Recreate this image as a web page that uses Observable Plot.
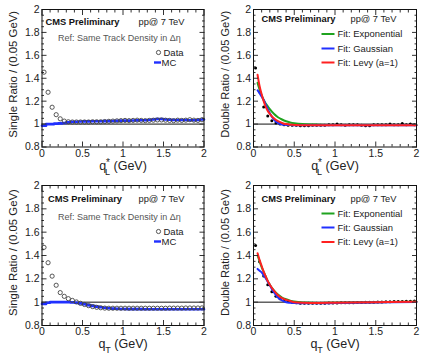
<!DOCTYPE html>
<html><head><meta charset="utf-8">
<script src="https://cdn.jsdelivr.net/npm/d3@7"></script>
<script src="https://cdn.jsdelivr.net/npm/@observablehq/plot@0.6"></script>
<style>
body{margin:0;background:#fff;}
#wrap{position:relative;width:424px;height:358px;overflow:hidden;}
#wrap svg{position:absolute;font-family:'Liberation Sans', Arial, Helvetica, sans-serif !important;}
</style></head><body><div id="wrap"></div>
<script>
// ---------- data ----------
const qBins = [0.025,0.075,0.125,0.175,0.225,0.275,0.325,0.375,0.425,0.475,0.525,0.575,0.625,0.675,0.725,0.775,0.825,0.875,0.925,0.975,1.025,1.075,1.125,1.175,1.225,1.275,1.325,1.375,1.425,1.475,1.525,1.575,1.625,1.675,1.725,1.775,1.825,1.875,1.925,1.975];

const singleQLData = [1.453,1.278,1.147,1.082,1.046,1.026,1.02,1.018,1.018,1.018,1.018,1.018,1.02,1.02,1.02,1.022,1.024,1.026,1.028,1.03,1.032,1.03,1.032,1.034,1.032,1.03,1.032,1.034,1.036,1.036,1.034,1.032,1.03,1.034,1.032,1.034,1.038,1.034,1.032,1.038];
const singleQLMC = [0.985,1.0,1.0,1.004,1.006,1.01,1.015,1.02,1.02,1.022,1.024,1.024,1.025,1.025,1.025,1.026,1.026,1.027,1.028,1.03,1.03,1.03,1.031,1.032,1.033,1.034,1.036,1.04,1.045,1.045,1.04,1.038,1.036,1.035,1.035,1.035,1.034,1.034,1.036,1.04];

const singleQTData = [1.47,1.338,1.223,1.145,1.082,1.05,1.03,1.015,1.002,0.99,0.98,0.97,0.962,0.956,0.952,0.949,0.948,0.948,0.948,0.948,0.948,0.948,0.948,0.948,0.948,0.948,0.948,0.948,0.948,0.948,0.948,0.949,0.949,0.949,0.949,0.95,0.95,0.95,0.95,0.951];
const singleQTMC = [0.985,0.995,1.0,1.0,1.0,1.0,1.0,0.998,0.995,0.99,0.982,0.975,0.968,0.962,0.957,0.952,0.948,0.945,0.943,0.942,0.941,0.94,0.94,0.94,0.94,0.939,0.939,0.939,0.939,0.939,0.939,0.939,0.939,0.939,0.939,0.939,0.939,0.939,0.939,0.939];

const doubleQLData = [1.49,1.28,1.15,1.07,1.03,1.01,1.0,0.995,0.99,0.99,0.99,0.985,0.985,0.985,0.99,0.99,0.99,0.99,0.995,0.995,1.0,0.995,0.99,0.995,0.995,0.995,0.99,0.985,0.985,0.995,0.995,0.995,0.995,1.0,0.995,0.995,1.005,0.995,1.0,0.995];
const doubleQTData = [1.485,1.346,1.225,1.15,1.09,1.05,1.03,1.015,1.005,1.0,0.995,0.99,0.99,0.99,0.99,0.99,0.99,0.99,0.992,0.992,0.993,0.994,0.995,0.995,0.996,0.997,0.998,0.999,1.0,1.0,1.001,1.002,1.003,1.004,1.005,1.005,1.006,1.007,1.008,1.009];

const fitX = [0.05,0.075,0.1,0.125,0.15,0.175,0.2,0.25,0.3,0.35,0.4,0.45,0.5,0.6,0.8,1.0,1.5,2.0];
const fitQLExp   = [1.36,1.3,1.25,1.21,1.18,1.155,1.13,1.09,1.06,1.04,1.025,1.015,1.008,1.0,0.995,0.993,0.992,0.992];
const fitQLGauss = [1.295,1.27,1.24,1.21,1.17,1.13,1.095,1.04,1.01,0.997,0.993,0.991,0.99,0.99,0.99,0.99,0.99,0.99];
const fitQLLevy  = [1.43,1.33,1.26,1.2,1.15,1.115,1.09,1.05,1.025,1.01,1.0,0.995,0.993,0.99,0.99,0.99,0.99,0.99];
const fitQTExp   = [1.40,1.35,1.30,1.26,1.22,1.18,1.15,1.10,1.065,1.04,1.025,1.013,1.005,0.997,0.993,0.995,1.0,1.003];
const fitQTGauss = [1.285,1.27,1.255,1.23,1.205,1.175,1.145,1.085,1.04,1.015,1.0,0.995,0.992,0.99,0.99,0.993,0.998,1.002];
const fitQTLevy  = [1.42,1.36,1.31,1.26,1.22,1.18,1.15,1.10,1.06,1.035,1.02,1.01,1.0,0.995,0.993,0.995,1.0,1.003];

const fitNames = ["Fit: Exponential","Fit: Gaussian","Fit: Levy (a=1)"];
const xTicks = [0,0.5,1,1.5,2];
const xTickLabels = ["0","0.5","1","1.5","2"];
const xMinor = [0.1,0.2,0.3,0.4,0.6,0.7,0.8,0.9,1.1,1.2,1.3,1.4,1.6,1.7,1.8,1.9];
const yTicks = [0.8,1,1.2,1.4,1.6,1.8,2];
const yTickLabels = ["0.8","1","1.2","1.4","1.6","1.8","2"];
const yMinor = [0.85,0.9,0.95,1.05,1.1,1.15,1.25,1.3,1.35,1.45,1.5,1.55,1.65,1.7,1.75,1.85,1.9,1.95];

// ---------- styles ----------
const FONT = "Liberation Sans";
const C_EXP = "#1fa31f", C_GAUSS = "#2030ff", C_LEVY = "#ff2020", C_MC = "#2030ff";

function lineSym(hw){ return {draw(ctx){ ctx.moveTo(-hw,0); ctx.lineTo(hw,0); }}; }
function T(txt, o){ return Plot.text([txt], {lineAnchor:"middle", fontFamily:FONT, ...o}); }

function axes(){
  const fx = d => xTickLabels[xTicks.indexOf(d)];
  const fy = d => yTickLabels[yTicks.indexOf(d)];
  const tk = {stroke:"#333", fill:"none", label:null, strokeWidth:1};
  return [
    Plot.axisX(xTicks,{anchor:"bottom",tickSize:0,tickPadding:2.5,tickFormat:fx,fontSize:10.5,fontFamily:FONT,fill:"#222",label:null}),
    Plot.axisY(yTicks,{anchor:"left",tickSize:0,tickPadding:2.5,tickFormat:fy,fontSize:10.5,fontFamily:FONT,fill:"#222",label:null}),
    Plot.axisX(xTicks,{anchor:"bottom",tickSize:-5,...tk}),
    Plot.axisX(xMinor,{anchor:"bottom",tickSize:-2.5,...tk}),
    Plot.axisX(xTicks,{anchor:"top",tickSize:-5,...tk}),
    Plot.axisX(xMinor,{anchor:"top",tickSize:-2.5,...tk}),
    Plot.axisY(yTicks,{anchor:"left",tickSize:-5,...tk}),
    Plot.axisY(yMinor,{anchor:"left",tickSize:-2.5,...tk}),
    Plot.axisY(yTicks,{anchor:"right",tickSize:-5,...tk}),
    Plot.axisY(yMinor,{anchor:"right",tickSize:-2.5,...tk}),
    Plot.frame({stroke:"#111"})
  ];
}

function titles(ytitle, xtitle, ydy){
  return [
    T(ytitle,{frameAnchor:"left",rotate:-90,textAnchor:"middle",dx:-28.5,dy:ydy,fontSize:11.5,fill:"#222"}),
    T(xtitle,{frameAnchor:"bottom",textAnchor:"middle",dy:18.5,fontSize:12.5,fill:"#222"})
  ];
}

function pts(xs, ys){ return xs.map((x,i)=>({x, y: ys[i]})); }
function steps(ys){ const a = qBins.map((c,i)=>({x:c-0.025, y:ys[i]})); a.push({x:2, y:ys[ys.length-1]}); return a; }

function makePlot(cfg, marks){
  const svg = Plot.plot({
    width:212, height:179,
    marginTop:cfg.mt, marginBottom:cfg.mb, marginLeft:cfg.ml, marginRight:cfg.mr,
    x:{domain:[0,2]}, y:{domain:[0.8,2]},
    style:{background:"transparent", overflow:"visible"},
    marks
  });
  svg.style.left = cfg.left + "px";
  svg.style.top = cfg.top + "px";
  return svg;
}

function singlePanel(cfg, data, mc, ytitle, xtitle, o){
  return makePlot(cfg, [
    Plot.ruleY([1],{stroke:"#111",strokeWidth:1}),
    Plot.line(steps(mc),{x:"x",y:"y",curve:"step-after",stroke:C_MC,strokeWidth:2.6}),
    Plot.dot(pts(qBins,data),{x:"x",y:"y",r:2.1,stroke:"#444",strokeWidth:0.9,fill:"none"}),
    ...axes(),
    ...titles(ytitle, xtitle, o.ty),
    T("CMS Preliminary",{frameAnchor:"top-left",dx:o.cx,dy:o.cy,textAnchor:"start",fontWeight:"bold",fontSize:9.7,fill:"#111"}),
    T("pp@ 7 TeV",{frameAnchor:"top-left",dx:96.5,dy:o.cy,textAnchor:"start",fontSize:9.3,fill:"#222"}),
    T("Ref: Same Track Density in \u0394\u03b7",{frameAnchor:"top-left",dx:16,dy:o.ry,textAnchor:"start",fontSize:9,fill:"#555"}),
    Plot.dot([0],{frameAnchor:"top-left",dx:116.5,dy:o.dy,r:2.1,stroke:"#444",strokeWidth:0.9,fill:"none"}),
    T("Data",{frameAnchor:"top-left",dx:121.5,dy:o.dy,textAnchor:"start",fontSize:9.5,fill:"#222"}),
    Plot.dot([0],{frameAnchor:"top-left",dx:115.5,dy:o.my,symbol:lineSym(3.5),stroke:C_MC,strokeWidth:2.4,fill:"none"}),
    T("MC",{frameAnchor:"top-left",dx:119.5,dy:o.my,textAnchor:"start",fontSize:9.5,fill:"#222"})
  ]);
}

function doublePanel(cfg, data, fe, fg, fl, ytitle, xtitle, o){
  const fits = [[fe,C_EXP],[fg,C_GAUSS],[fl,C_LEVY]];
  const leg = fits.flatMap(([_,c],i)=>[
    Plot.dot([0],{frameAnchor:"top-left",dx:74.5,dy:o.ly[i],symbol:lineSym(6.5),stroke:c,strokeWidth:2,fill:"none"}),
    T(fitNames[i],{frameAnchor:"top-left",dx:84,dy:o.ly[i],textAnchor:"start",fontSize:9.2,fill:"#222"})
  ]);
  return makePlot(cfg, [
    Plot.ruleY([1],{stroke:"#111",strokeWidth:1}),
    Plot.dot(pts(qBins,data),{x:"x",y:"y",r:1.5,fill:"#000"}),
    ...fits.map(([f,c])=>Plot.line(pts(fitX,f),{x:"x",y:"y",curve:"monotone-x",stroke:c,strokeWidth:2})),
    ...axes(),
    ...titles(ytitle, xtitle, o.ty),
    T("CMS Preliminary",{frameAnchor:"top-left",dx:8,dy:o.cy,textAnchor:"start",fontWeight:"bold",fontSize:9.7,fill:"#111"}),
    T("pp@ 7 TeV",{frameAnchor:"top-left",dx:97,dy:o.cy,textAnchor:"start",fontSize:9.3,fill:"#222"}),
    ...leg
  ]);
}

const wrap = document.getElementById("wrap");
const topRow = {mt:9, mb:32.5}, botRow = {mt:6, mb:33};
const leftCol = {ml:41.5, mr:8.5, left:0}, rightCol = {ml:41, mr:8, left:212};

wrap.appendChild(singlePanel({...topRow,...leftCol,top:0}, singleQLData, singleQLMC,
  "Single Ratio / (0.05 GeV)", "q*L (GeV)", {cx:3.5,cy:13,ry:29,dy:43,my:53,ty:-4}));
wrap.appendChild(doublePanel({...topRow,...rightCol,top:0}, doubleQLData, fitQLExp, fitQLGauss, fitQLLevy,
  "Double Ratio / (0.05 GeV)", "q*L (GeV)", {cy:10,ly:[24.5,39,53],ty:-4}));
wrap.appendChild(singlePanel({...botRow,...leftCol,top:179}, singleQTData, singleQTMC,
  "Single Ratio / (0.05 GeV)", "qT (GeV)", {cx:6,cy:14,ry:32,dy:46,my:56,ty:-3}));
wrap.appendChild(doublePanel({...botRow,...rightCol,top:179}, doubleQTData, fitQTExp, fitQTGauss, fitQTLevy,
  "Double Ratio / (0.05 GeV)", "qT (GeV)", {cy:14,ly:[28,42,56.5],ty:-3}));

// fit text widths to the widths measured on the reference
const targetWidth = {
  "Single Ratio / (0.05 GeV)":127, "Double Ratio / (0.05 GeV)":127,
  "CMS Preliminary":74, "pp@ 7 TeV":46, "Ref: Same Track Density in \u0394\u03b7":123
};
function fsOf(t){ return parseFloat(getComputedStyle(t).fontSize); }
wrap.querySelectorAll("svg").forEach(svg=>{
  const texts = [...svg.querySelectorAll("text")];
  texts.forEach(t=>{
    const w = targetWidth[t.textContent];
    if (w) { const k = Math.max(0.8, Math.min(1.2, w / t.getComputedTextLength())); t.setAttribute("font-size", (fsOf(t)*k).toFixed(2)); }
  });
  const ex = texts.find(t=>t.textContent === fitNames[0]);
  if (ex) {
    const k = Math.max(0.8, Math.min(1.2, 65 / ex.getComputedTextLength()));
    texts.filter(t=>fitNames.includes(t.textContent)).forEach(t=>t.setAttribute("font-size",(fsOf(t)*k).toFixed(2)));
  }
});

// rich x titles: superscript / subscript
const NS = "http://www.w3.org/2000/svg";
function ts(txt, attrs){ const t = document.createElementNS(NS,"tspan"); t.textContent = txt; for (const k in attrs) t.setAttribute(k, attrs[k]); return t; }
wrap.querySelectorAll("text").forEach(t=>{
  const s = t.textContent;
  if (s === "q*L (GeV)") {
    t.textContent = "q";
    t.appendChild(ts("*",{dy:-4,"font-size":10}));
    t.appendChild(ts("L",{dx:-5,dy:9,"font-size":9}));
    t.appendChild(ts(" (GeV)",{dy:-5}));
  } else if (s === "qT (GeV)") {
    t.textContent = "q";
    t.appendChild(ts("T",{dy:5,"font-size":9}));
    t.appendChild(ts(" (GeV)",{dy:-5}));
  }
});
</script></body></html>
